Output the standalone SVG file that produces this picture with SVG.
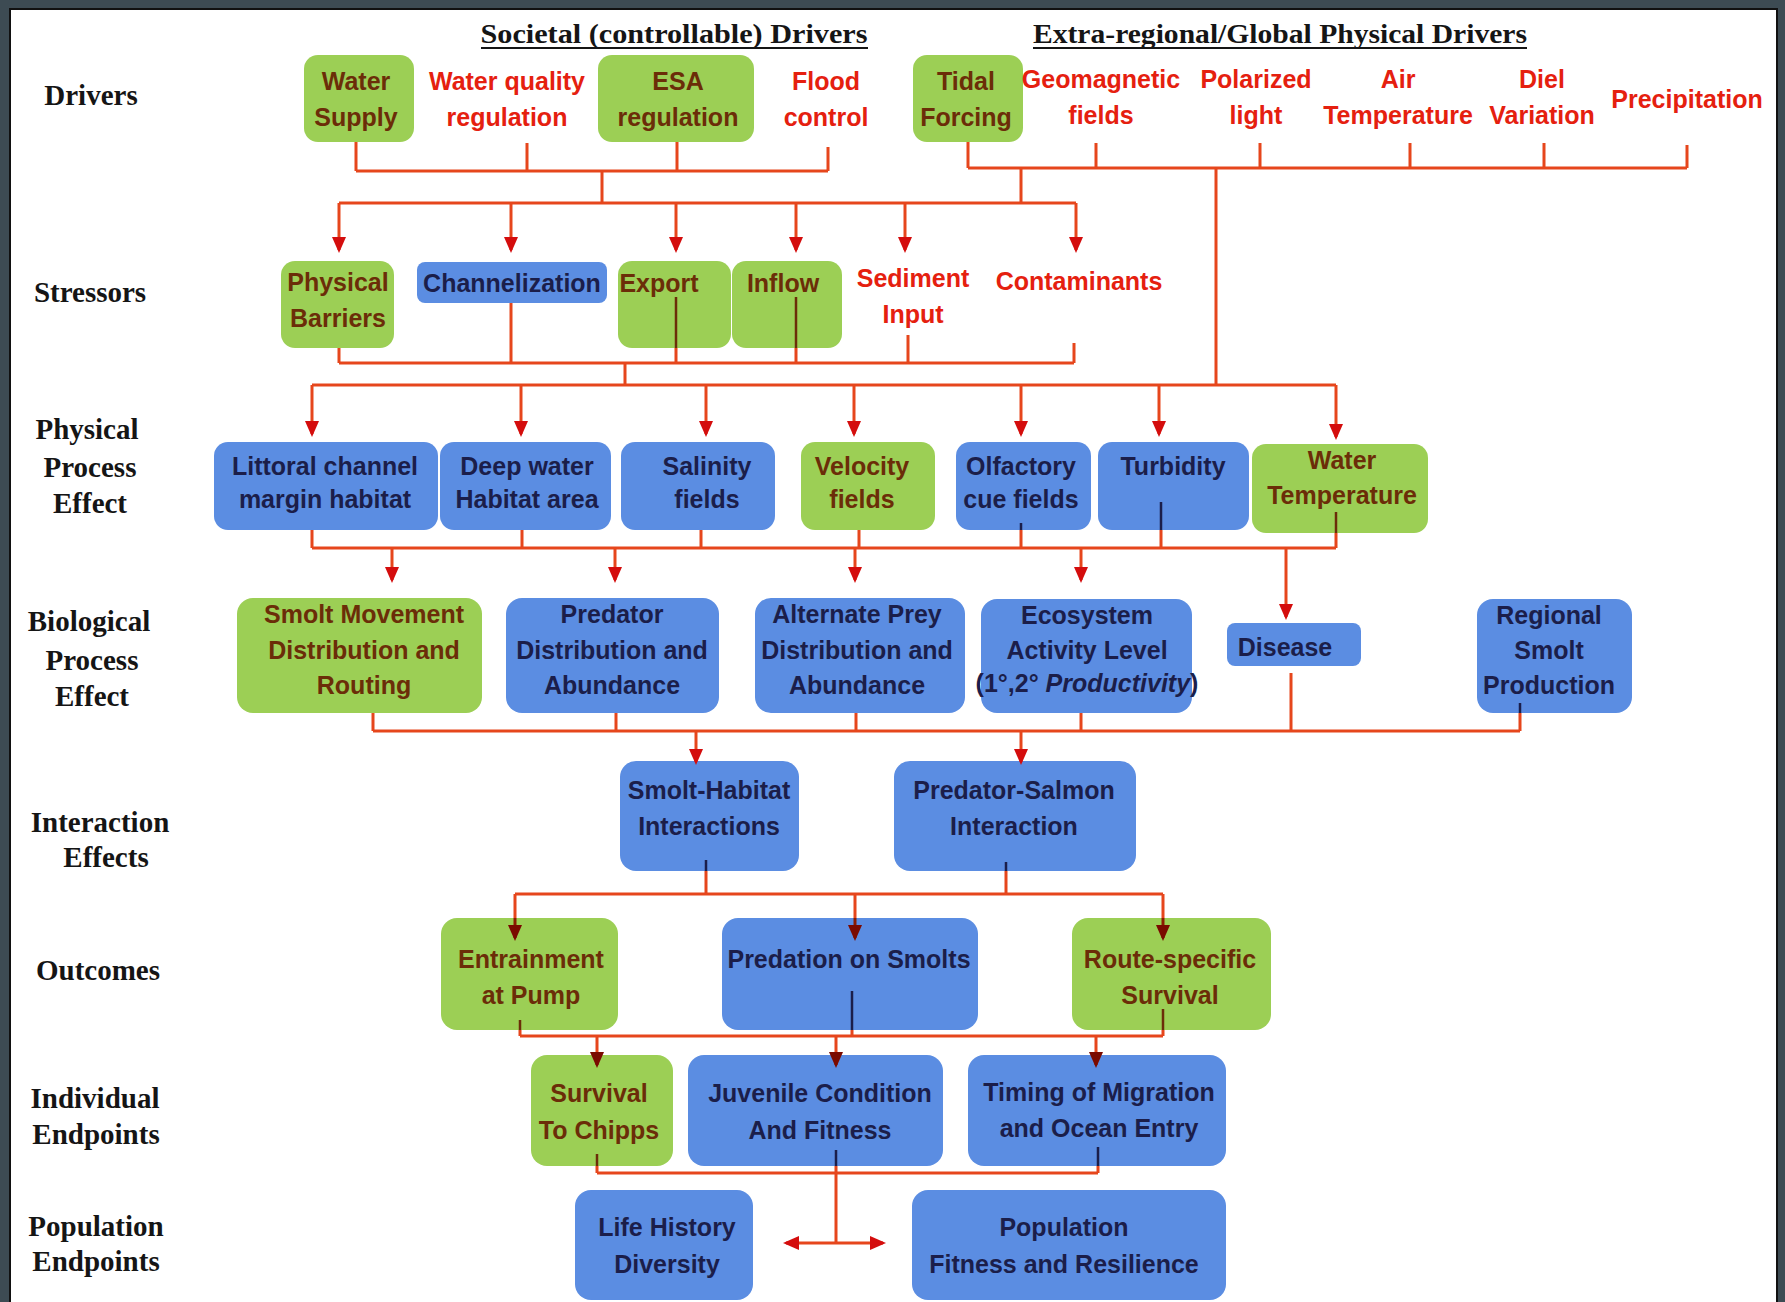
<svg xmlns="http://www.w3.org/2000/svg" width="1785" height="1302" viewBox="0 0 1785 1302">
<defs>
<style>
.lbl{font-family:"Liberation Serif","Times New Roman",serif;font-weight:bold;font-size:29px;fill:#151515;text-anchor:middle}
.hdr{font-family:"Liberation Serif","Times New Roman",serif;font-weight:bold;font-size:28px;fill:#151515;text-anchor:middle}
.t{font-family:"Liberation Sans",Arial,sans-serif;font-weight:bold;font-size:25px;text-anchor:middle}
.red{fill:#e5200f}
.tg{fill:#6b2d08}
.tb{fill:#1b1e4a}
.g{fill:#9ccf55}
.b{fill:#5b8de2}
.c{fill:none;stroke:#e6461c;stroke-width:3}
.sg{fill:none;stroke:#6b2d08;stroke-width:2.5}
.sb{fill:none;stroke:#1b1e4a;stroke-width:2.5}
.dk{fill:none;stroke:#8b1a00;stroke-width:3}
.a{marker-end:url(#ah)}
.ad{marker-end:url(#ahd)}
</style>
<marker id="ah" markerUnits="userSpaceOnUse" markerWidth="16" markerHeight="14" refX="13" refY="7" orient="auto">
<path d="M0,0 L16,7 L0,14 z" fill="#d40d0d"/>
</marker>
<marker id="ahd" markerUnits="userSpaceOnUse" markerWidth="16" markerHeight="14" refX="13" refY="7" orient="auto">
<path d="M0,0 L16,7 L0,14 z" fill="#7a0a00"/>
</marker>
</defs>

<rect x="0" y="0" width="1785" height="1302" fill="#3d4b53"/>
<rect x="10" y="9" width="1767" height="1300" fill="#ffffff" stroke="#111" stroke-width="2"/>

<g id="row-labels">
<text class="lbl" x="91" y="105">Drivers</text>
<text class="lbl" x="90" y="302">Stressors</text>
<text class="lbl" x="87" y="439">Physical</text>
<text class="lbl" x="90" y="477">Process</text>
<text class="lbl" x="90" y="513">Effect</text>
<text class="lbl" x="89" y="631">Biological</text>
<text class="lbl" x="92" y="670">Process</text>
<text class="lbl" x="92" y="706">Effect</text>
<text class="lbl" x="100" y="832">Interaction</text>
<text class="lbl" x="106" y="867">Effects</text>
<text class="lbl" x="98" y="980">Outcomes</text>
<text class="lbl" x="95" y="1108">Individual</text>
<text class="lbl" x="96" y="1144">Endpoints</text>
<text class="lbl" x="96" y="1236">Population</text>
<text class="lbl" x="96" y="1271">Endpoints</text>
</g>

<g id="headers">
<text class="hdr" x="674" y="43" textLength="387" lengthAdjust="spacingAndGlyphs">Societal (controllable) Drivers</text>
<line x1="481" y1="48" x2="868" y2="48" stroke="#151515" stroke-width="2"/>
<text class="hdr" x="1280" y="43" textLength="494" lengthAdjust="spacingAndGlyphs">Extra-regional/Global Physical Drivers</text>
<line x1="1033" y1="48" x2="1527" y2="48" stroke="#151515" stroke-width="2"/>
</g>

<!-- Drivers -->
<g id="water-supply"><rect class="g" x="304" y="55" width="110" height="87" rx="14"/><text class="t tg" x="356" y="90">Water</text><text class="t tg" x="356" y="126">Supply</text></g>
<g id="water-quality"><text class="t red" x="507" y="90">Water quality</text><text class="t red" x="507" y="126">regulation</text></g>
<g id="esa"><rect class="g" x="598" y="55" width="156" height="87" rx="14"/><text class="t tg" x="678" y="90">ESA</text><text class="t tg" x="678" y="126">regulation</text></g>
<g id="flood"><text class="t red" x="826" y="90">Flood</text><text class="t red" x="826" y="126">control</text></g>
<g id="tidal"><rect class="g" x="913" y="55" width="110" height="87" rx="14"/><text class="t tg" x="966" y="90">Tidal</text><text class="t tg" x="966" y="126">Forcing</text></g>
<g id="geomagnetic"><text class="t red" x="1101" y="88">Geomagnetic</text><text class="t red" x="1101" y="124">fields</text></g>
<g id="polarized"><text class="t red" x="1256" y="88">Polarized</text><text class="t red" x="1256" y="124">light</text></g>
<g id="air-temp"><text class="t red" x="1398" y="88">Air</text><text class="t red" x="1398" y="124">Temperature</text></g>
<g id="diel"><text class="t red" x="1542" y="88">Diel</text><text class="t red" x="1542" y="124">Variation</text></g>
<g id="precipitation"><text class="t red" x="1687" y="108">Precipitation</text></g>

<!-- Stressors -->
<g id="physical-barriers"><rect class="g" x="281" y="261" width="113" height="87" rx="14"/><text class="t tg" x="338" y="291">Physical</text><text class="t tg" x="338" y="327">Barriers</text></g>
<g id="channelization"><rect class="b" x="417" y="262" width="190" height="41" rx="8"/><text class="t tb" x="512" y="292">Channelization</text></g>
<g id="export"><rect class="g" x="618" y="261" width="113" height="87" rx="14"/><text class="t tg" x="659" y="292">Export</text></g>
<g id="inflow"><rect class="g" x="732" y="261" width="110" height="87" rx="14"/><text class="t tg" x="783" y="292">Inflow</text></g>
<g id="sediment"><text class="t red" x="913" y="287">Sediment</text><text class="t red" x="913" y="323">Input</text></g>
<g id="contaminants"><text class="t red" x="1079" y="290">Contaminants</text></g>

<!-- Physical process -->
<g id="littoral"><rect class="b" x="214" y="442" width="224" height="88" rx="14"/><text class="t tb" x="325" y="475">Littoral channel</text><text class="t tb" x="325" y="508">margin habitat</text></g>
<g id="deep-water"><rect class="b" x="440" y="442" width="171" height="88" rx="14"/><text class="t tb" x="527" y="475">Deep water</text><text class="t tb" x="527" y="508">Habitat area</text></g>
<g id="salinity"><rect class="b" x="621" y="442" width="154" height="88" rx="14"/><text class="t tb" x="707" y="475">Salinity</text><text class="t tb" x="707" y="508">fields</text></g>
<g id="velocity"><rect class="g" x="801" y="442" width="134" height="88" rx="14"/><text class="t tg" x="862" y="475">Velocity</text><text class="t tg" x="862" y="508">fields</text></g>
<g id="olfactory"><rect class="b" x="956" y="442" width="135" height="88" rx="14"/><text class="t tb" x="1021" y="475">Olfactory</text><text class="t tb" x="1021" y="508">cue fields</text></g>
<g id="turbidity"><rect class="b" x="1098" y="442" width="151" height="88" rx="14"/><text class="t tb" x="1173" y="475">Turbidity</text></g>
<g id="water-temperature"><rect class="g" x="1252" y="444" width="176" height="89" rx="14"/><text class="t tg" x="1342" y="469">Water</text><text class="t tg" x="1342" y="504">Temperature</text></g>

<!-- Biological -->
<g id="smolt-movement"><rect class="g" x="237" y="598" width="245" height="115" rx="16"/><text class="t tg" x="364" y="623">Smolt Movement</text><text class="t tg" x="364" y="659">Distribution and</text><text class="t tg" x="364" y="694">Routing</text></g>
<g id="predator-dist"><rect class="b" x="506" y="598" width="213" height="115" rx="16"/><text class="t tb" x="612" y="623">Predator</text><text class="t tb" x="612" y="659">Distribution and</text><text class="t tb" x="612" y="694">Abundance</text></g>
<g id="alternate-prey"><rect class="b" x="755" y="598" width="210" height="115" rx="16"/><text class="t tb" x="857" y="623">Alternate Prey</text><text class="t tb" x="857" y="659">Distribution and</text><text class="t tb" x="857" y="694">Abundance</text></g>
<g id="ecosystem"><rect class="b" x="981" y="599" width="211" height="114" rx="16"/><text class="t tb" x="1087" y="624">Ecosystem</text><text class="t tb" x="1087" y="659">Activity Level</text><text class="t tb" x="1087" y="692" font-size="24">(1°,2° <tspan font-style="italic">Productivity</tspan>)</text></g>
<g id="disease"><rect class="b" x="1227" y="623" width="134" height="43" rx="8"/><text class="t tb" x="1285" y="656">Disease</text></g>
<g id="regional-smolt"><rect class="b" x="1477" y="599" width="155" height="114" rx="16"/><text class="t tb" x="1549" y="624">Regional</text><text class="t tb" x="1549" y="659">Smolt</text><text class="t tb" x="1549" y="694">Production</text></g>

<!-- Interaction -->
<g id="smolt-habitat"><rect class="b" x="620" y="761" width="179" height="110" rx="16"/><text class="t tb" x="709" y="799">Smolt-Habitat</text><text class="t tb" x="709" y="835">Interactions</text></g>
<g id="predator-salmon"><rect class="b" x="894" y="761" width="242" height="110" rx="16"/><text class="t tb" x="1014" y="799">Predator-Salmon</text><text class="t tb" x="1014" y="835">Interaction</text></g>

<!-- Outcomes -->
<g id="entrainment"><rect class="g" x="441" y="918" width="177" height="112" rx="16"/><text class="t tg" x="531" y="968">Entrainment</text><text class="t tg" x="531" y="1004">at Pump</text></g>
<g id="predation"><rect class="b" x="722" y="918" width="256" height="112" rx="16"/><text class="t tb" x="849" y="968">Predation on Smolts</text></g>
<g id="route-specific"><rect class="g" x="1072" y="918" width="199" height="112" rx="16"/><text class="t tg" x="1170" y="968">Route-specific</text><text class="t tg" x="1170" y="1004">Survival</text></g>

<!-- Individual endpoints -->
<g id="survival-chipps"><rect class="g" x="531" y="1055" width="142" height="111" rx="16"/><text class="t tg" x="599" y="1102">Survival</text><text class="t tg" x="599" y="1139">To Chipps</text></g>
<g id="juvenile"><rect class="b" x="688" y="1055" width="255" height="111" rx="16"/><text class="t tb" x="820" y="1102">Juvenile Condition</text><text class="t tb" x="820" y="1139">And Fitness</text></g>
<g id="timing"><rect class="b" x="968" y="1055" width="258" height="111" rx="16"/><text class="t tb" x="1099" y="1101">Timing of Migration</text><text class="t tb" x="1099" y="1137">and Ocean Entry</text></g>

<!-- Population endpoints -->
<g id="life-history"><rect class="b" x="575" y="1190" width="178" height="110" rx="16"/><text class="t tb" x="667" y="1236">Life History</text><text class="t tb" x="667" y="1273">Diversity</text></g>
<g id="population-fitness"><rect class="b" x="912" y="1190" width="314" height="110" rx="16"/><text class="t tb" x="1064" y="1236">Population</text><text class="t tb" x="1064" y="1273">Fitness and Resilience</text></g>

<g id="connectors">
<!-- societal drivers -->
<path class="c" d="M356,142V171M527,143V171M677,142V171M828,147V171M356,171H828M602,171V203"/>
<!-- extra-regional drivers -->
<path class="c" d="M968,142V168M1096,143V168M1260,143V168M1410,143V168M1544,143V168M1687,145V168M968,168H1687M1021,168V203M1216,168V385"/>
<!-- to stressors -->
<path class="c" d="M339,203H1076"/>
<path class="c a" d="M339,203V250"/>
<path class="c a" d="M511,203V250"/>
<path class="c a" d="M676,203V250"/>
<path class="c a" d="M796,203V250"/>
<path class="c a" d="M905,203V250"/>
<path class="c a" d="M1076,203V250"/>
<!-- stressors collect -->
<path class="sg" d="M676,297V348M796,297V348"/>
<path class="c" d="M339,348V363M511,303V363M676,348V363M796,348V363M908,335V363M1074,343V363M339,363H1074M625,363V385"/>
<!-- to physical process -->
<path class="c" d="M312,385H1336"/>
<path class="c a" d="M312,385V434"/>
<path class="c a" d="M521,385V434"/>
<path class="c a" d="M706,385V434"/>
<path class="c a" d="M854,385V434"/>
<path class="c a" d="M1021,385V434"/>
<path class="c a" d="M1159,385V434"/>
<path class="c a" d="M1336,385V437"/>
<!-- physical collect -->
<path class="sb" d="M1161,502V530M1021,523V530"/>
<path class="sg" d="M1336,512V533"/>
<path class="c" d="M312,530V548M522,530V548M701,530V548M859,530V548M1021,530V548M1161,530V548M1336,533V548M312,548H1336"/>
<path class="c a" d="M392,548V580"/>
<path class="c a" d="M615,548V580"/>
<path class="c a" d="M855,548V580"/>
<path class="c a" d="M1081,548V580"/>
<path class="c a" d="M1286,548V617"/>
<!-- biological collect -->
<path class="sb" d="M1520,703V713"/>
<path class="c" d="M373,713V731M616,713V731M856,713V731M1081,713V731M1291,673V731M1520,713V731M373,731H1520"/>
<path class="c a" d="M696,731V762"/>
<path class="c a" d="M1021,731V762"/>
<!-- interaction to outcomes -->
<path class="sb" d="M706,860V871M1006,862V871"/>
<path class="c" d="M706,871V894M1006,871V894M515,894H1163M515,894V918M855,894V918M1163,894V918"/>
<path class="dk ad" d="M515,918V938"/>
<path class="dk ad" d="M855,918V938"/>
<path class="dk ad" d="M1163,918V938"/>
<!-- outcomes to individual -->
<path class="sg" d="M520,1020V1030M1163,1009V1030"/>
<path class="sb" d="M852,991V1030"/>
<path class="c" d="M520,1030V1036M852,1030V1036M1163,1030V1036M520,1036H1163M597,1036V1055M836,1036V1055M1096,1036V1055"/>
<path class="dk ad" d="M597,1055V1065"/>
<path class="dk ad" d="M836,1055V1065"/>
<path class="dk ad" d="M1096,1055V1065"/>
<!-- individual to population -->
<path class="sg" d="M597,1154V1166"/>
<path class="sb" d="M836,1150V1166M1098,1147V1166"/>
<path class="c" d="M597,1166V1173M1098,1166V1173M597,1173H1098M836,1166V1243"/>
<path class="c a" d="M836,1243H786"/>
<path class="c a" d="M836,1243H883"/>
</g>
</svg>
